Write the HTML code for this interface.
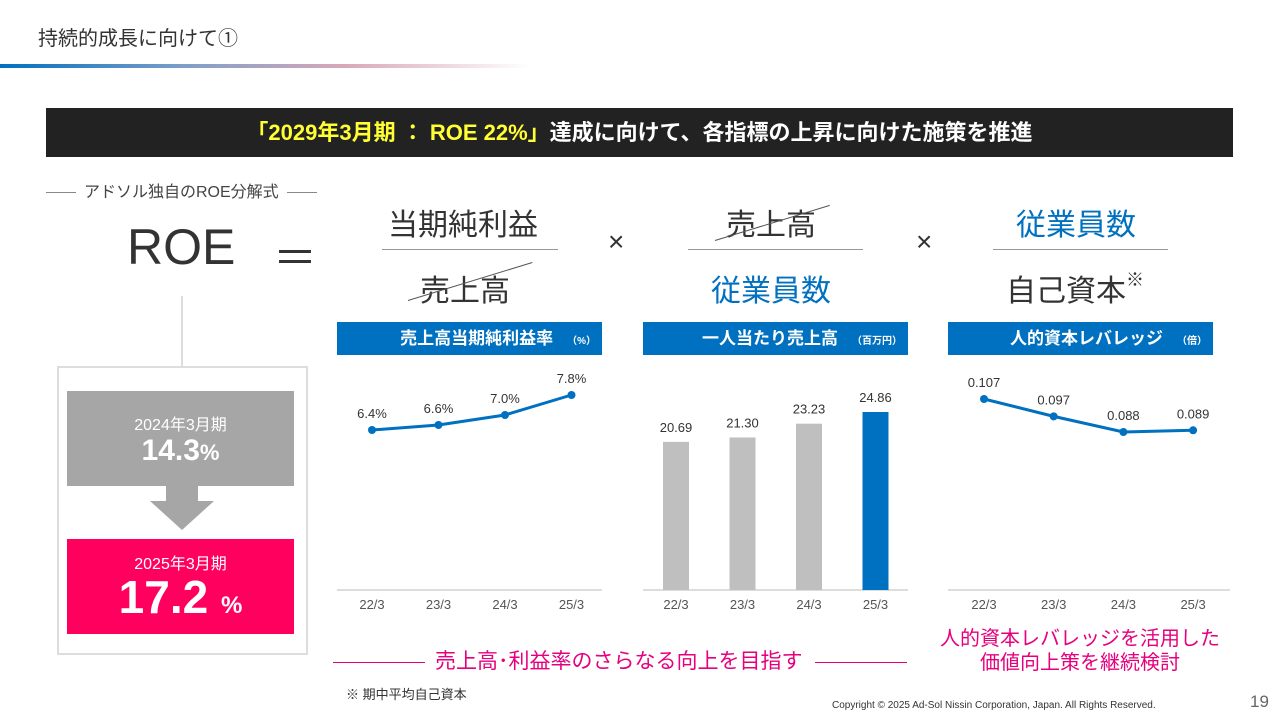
<!DOCTYPE html>
<html><head><meta charset="utf-8">
<style>
*{margin:0;padding:0;box-sizing:border-box}
body{width:1280px;height:720px;position:relative;background:#fff;font-family:"Liberation Sans","Noto Sans CJK JP",sans-serif;color:#333;overflow:hidden}
.a{position:absolute;white-space:nowrap}
.frac-line{position:absolute;height:1px;background:#999}
.hdr{position:absolute;height:33px;background:#0070c0;color:#fff;font-weight:bold;font-size:17px;line-height:33px;text-align:right;padding-right:6px}
.hdr small{font-size:10px;margin-left:14px}
</style></head><body>
<div class="a" style="left:38px;top:22px;font-size:20px;color:#333">持続的成長に向けて①</div>
<div class="a" style="left:0;top:64px;width:530px;height:4px;background:linear-gradient(90deg,#0070c0 0%,#7f9fc8 35%,#d8a8b8 65%,rgba(255,255,255,0) 100%)"></div>
<div class="a" style="left:46px;top:108px;width:1187px;height:49px;background:#222;text-align:center;line-height:49px;font-size:22px;color:#fff;font-weight:bold"><span style="color:#ffff33">「2029年3月期 ： ROE 22%」</span>達成に向けて、各指標の上昇に向けた施策を推進</div>
<div class="a" style="left:46px;top:178px;font-size:16px;color:#444"><span style="display:inline-block;width:30px;height:1px;background:#888;vertical-align:middle;margin-right:8px"></span>アドソル独自のROE分解式<span style="display:inline-block;width:30px;height:1px;background:#888;vertical-align:middle;margin-left:8px"></span></div>
<div class="a" style="left:127px;top:218px;font-size:50px;color:#333">ROE</div>
<div class="a" style="left:273px;top:222px;font-size:44px;color:#333">＝</div>
<div class="a" style="left:388px;top:200px;font-size:30px">当期純利益</div>
<div class="frac-line" style="left:382px;top:249px;width:176px"></div>
<div class="a" style="left:420px;top:266px;font-size:30px">売上高</div>
<div class="a" style="left:408px;top:300px;width:130px;height:1px;background:#555;transform:rotate(-17deg);transform-origin:left"></div>
<div class="a" style="left:608px;top:226px;font-size:28px">×</div>
<div class="a" style="left:726px;top:200px;font-size:30px">売上高</div>
<div class="a" style="left:715px;top:240px;width:120px;height:1px;background:#555;transform:rotate(-17deg);transform-origin:left"></div>
<div class="frac-line" style="left:688px;top:249px;width:175px"></div>
<div class="a" style="left:711px;top:266px;font-size:30px;color:#0070c0">従業員数</div>
<div class="a" style="left:916px;top:226px;font-size:28px">×</div>
<div class="a" style="left:1016px;top:200px;font-size:30px;color:#0070c0">従業員数</div>
<div class="frac-line" style="left:993px;top:249px;width:175px"></div>
<div class="a" style="left:1006px;top:266px;font-size:30px">自己資本<span style="font-size:18px;vertical-align:top">※</span></div>

<div class="a" style="left:181px;top:296px;width:2px;height:70px;background:#ddd"></div>
<div class="a" style="left:57px;top:366px;width:251px;height:289px;border:2px solid #ddd"></div>
<div class="a" style="left:67px;top:391px;width:227px;height:95px;background:#a6a6a6;color:#fff;text-align:center">
<div style="font-size:16px;margin-top:20px">2024年3月期</div><div style="font-size:30px;font-weight:bold;line-height:32px">14.3<span style="font-size:22px">%</span></div></div>
<div class="a" style="left:166px;top:486px;width:32px;height:16px;background:#a6a6a6"></div>
<div class="a" style="left:150px;top:501px;width:0;height:0;border-left:32px solid transparent;border-right:32px solid transparent;border-top:29px solid #a6a6a6"></div>
<div class="a" style="left:67px;top:539px;width:227px;height:95px;background:#ff005f;color:#fff;text-align:center">
<div style="font-size:16px;margin-top:11px">2025年3月期</div><div style="font-size:46px;font-weight:bold;line-height:46px">17.2 <span style="font-size:24px">%</span></div></div>

<div class="hdr" style="left:337px;top:322px;width:265px">売上高当期純利益率<small>（%）</small></div>
<div class="hdr" style="left:643px;top:322px;width:265px">一人当たり売上高<small>（百万円）</small></div>
<div class="hdr" style="left:948px;top:322px;width:265px">人的資本レバレッジ<small>（倍）</small></div>

<svg class="a" style="left:0;top:0" width="1280" height="720" id="charts" font-family="Liberation Sans, sans-serif"></svg>

<div class="a" style="left:333px;top:645px;font-size:21px;color:#e6007e">
<span style="display:inline-block;width:92px;height:1px;background:#e6007e;vertical-align:middle;margin-right:10px"></span>売上高･利益率のさらなる向上を目指す<span style="display:inline-block;width:92px;height:1px;background:#e6007e;vertical-align:middle;margin-left:12px"></span></div>
<div class="a" style="left:930px;top:627px;width:300px;font-size:20px;color:#e6007e;text-align:center;line-height:24px">人的資本レバレッジを活用した<br>価値向上策を継続検討</div>
<div class="a" style="left:346px;top:684px;font-size:13px;color:#333">※ 期中平均自己資本</div>
<div class="a" style="left:832px;top:700px;font-size:10px;color:#333">Copyright © 2025 Ad-Sol Nissin Corporation, Japan. All Rights Reserved.</div>
<div class="a" style="left:1250px;top:692px;font-size:17px;color:#666">19</div>

<script>
const categories=["22/3","23/3","24/3","25/3"];
const marginValues=[6.4,6.6,7.0,7.8];
const marginLabels=["6.4%","6.6%","7.0%","7.8%"];
const salesPerEmployee=[20.69,21.30,23.23,24.86];
const salesLabels=["20.69","21.30","23.23","24.86"];
const leverageValues=[0.107,0.097,0.088,0.089];
const leverageLabels=["0.107","0.097","0.088","0.089"];

const svg=document.getElementById('charts');
const NS='http://www.w3.org/2000/svg';
function mk(t,a){const e=document.createElementNS(NS,t);for(const k in a)e.setAttribute(k,a[k]);svg.appendChild(e);return e;}
const base=590;
function xBand(x0,i){return x0+i*66.5;}
const y1=v=>base-v*25;
const y2=v=>base-v*7.16;
const y3=v=>399+(0.107-v)*1737;

function axis(x0,x1,xs,name){
  const l=mk('line',{x1:x0,x2:x1,y1:base,y2:base,stroke:'#ddd','stroke-width':2});
  
  
  categories.forEach((c,i)=>{const t=mk('text',{x:xs(i),y:609,'text-anchor':'middle','font-size':13,fill:'#555'});t.textContent=c;
    
    });
}
function line(xs,vals,ys,labels,name){
  const pts=vals.map((v,i)=>xs(i)+','+ys(v)).join(' ');
  const p=mk('polyline',{points:pts,fill:'none',stroke:'#0070c0','stroke-width':3});
  
  
  vals.forEach((v,i)=>{const c=mk('circle',{cx:xs(i),cy:ys(v),r:4,fill:'#0070c0'});
    
    
    const t=mk('text',{x:xs(i),y:ys(v)-12,'text-anchor':'middle','font-size':13,fill:'#333'});t.textContent=labels[i];
    
    });
}
const xs1=i=>xBand(372,i);
axis(337,602,xs1,'margin-chart');
line(xs1,marginValues,y1,marginLabels,'margin-chart');
const xs2=i=>xBand(676,i);
axis(643,908,xs2,'sales-chart');
salesPerEmployee.forEach((v,i)=>{const r=mk('rect',{x:xs2(i)-13,y:y2(v),width:26,height:base-y2(v),fill:i===3?'#0070c0':'#bfbfbf'});
  
  
  const t=mk('text',{x:xs2(i),y:y2(v)-10,'text-anchor':'middle','font-size':13,fill:'#333'});t.textContent=salesLabels[i];
  
  });
const xs3=i=>984+i*69.7;
axis(948,1230,xs3,'leverage-chart');
line(xs3,leverageValues,y3,leverageLabels,'leverage-chart');
</script>
</body></html>
